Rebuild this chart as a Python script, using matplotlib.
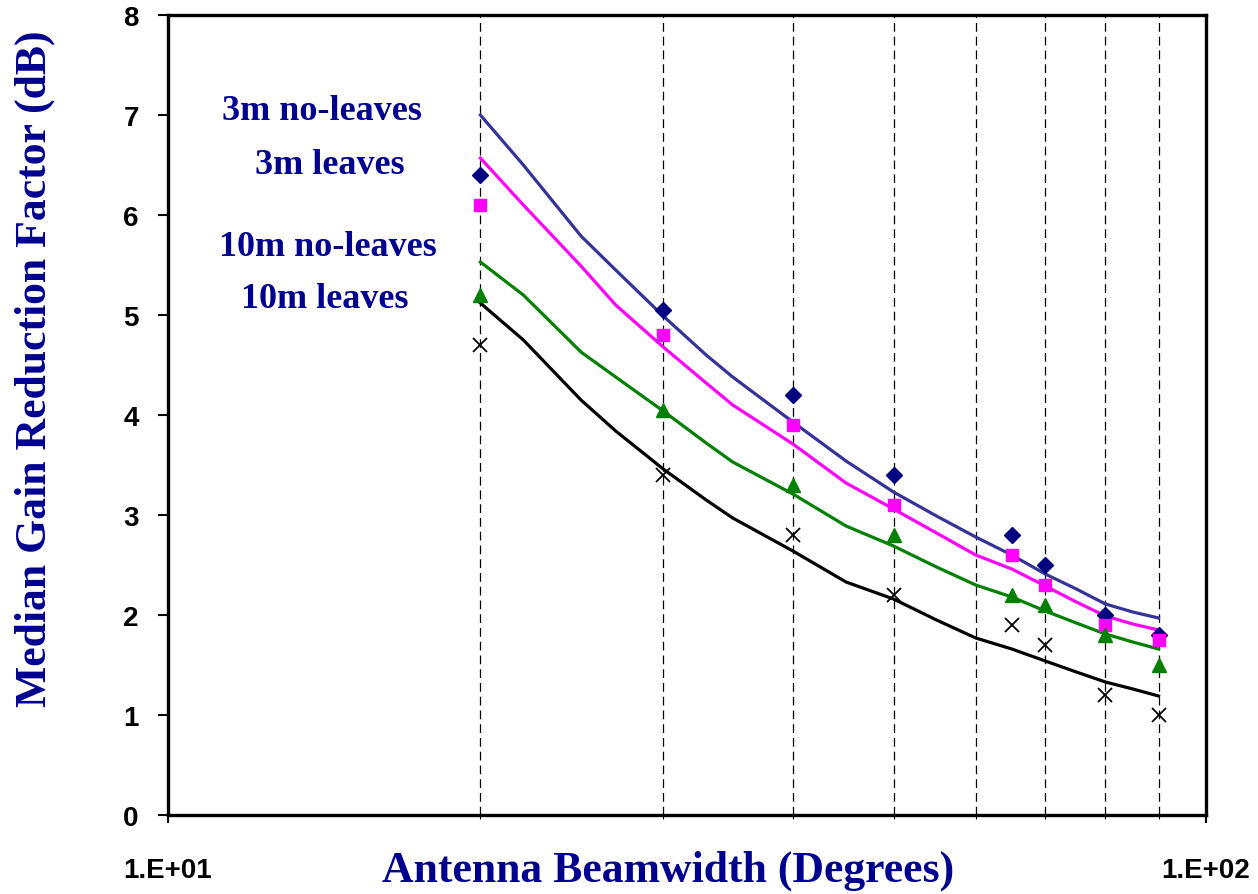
import numpy as np
import matplotlib.pyplot as plt
from matplotlib.ticker import FixedLocator, FixedFormatter, NullFormatter

# measured points
beam_x = [20, 30, 40, 50, 65, 70, 80, 90]
no_leaves_3m = [6.4, 5.05, 4.2, 3.4, 2.8, 2.5, 2.0, 1.8]
leaves_3m = [6.1, 4.8, 3.9, 3.1, 2.6, 2.3, 1.9, 1.75]
no_leaves_10m = [5.2, 4.05, 3.3, 2.8, 2.2, 2.1, 1.8, 1.5]
leaves_10m = [4.7, 3.4, 2.8, 2.2, 1.9, 1.7, 1.2, 1.0]

# model curves
fit_x = [20, 22, 25, 27, 30, 33, 35, 40, 45, 50, 55, 60, 65, 70, 75, 80, 85, 90]
fit_3m_nl = [7.0, 6.5, 5.79, 5.45, 4.99, 4.6, 4.38, 3.93, 3.54, 3.23, 2.99, 2.78, 2.6, 2.41, 2.26, 2.11, 2.03, 1.97]
fit_3m_l = [6.57, 6.1, 5.49, 5.1, 4.68, 4.32, 4.1, 3.71, 3.32, 3.06, 2.82, 2.6, 2.46, 2.29, 2.13, 1.99, 1.91, 1.85]
fit_10m_nl = [5.53, 5.2, 4.63, 4.38, 4.04, 3.72, 3.53, 3.21, 2.89, 2.69, 2.48, 2.3, 2.18, 2.04, 1.92, 1.81, 1.73, 1.66]
fit_10m_l = [5.12, 4.75, 4.15, 3.84, 3.46, 3.15, 2.97, 2.64, 2.33, 2.16, 1.95, 1.77, 1.66, 1.54, 1.43, 1.33, 1.26, 1.19]

grid_x = [20, 30, 40, 50, 60, 70, 80, 90, 100]
labels = ['3m no-leaves', '3m leaves', '10m no-leaves', '10m leaves']

navy = '#000090'
fig = plt.figure(figsize=(12.58, 8.95), dpi=100)
ax = fig.add_axes([0.1335, 0.0883, 0.8252, 0.8937])

for gx in grid_x:
  ax.axvline(gx, color='black', lw=0.9, ls=(0, (7, 4)), zorder=1)

ax.plot(fit_x, fit_3m_nl, color='#333399', lw=2.3, zorder=2)
ax.plot(fit_x, fit_3m_l, color='#FF00FF', lw=2.3, zorder=2)
ax.plot(fit_x, fit_10m_nl, color='#008000', lw=2.3, zorder=2)
ax.plot(fit_x, fit_10m_l, color='black', lw=2.3, zorder=2)

ax.plot(beam_x, no_leaves_3m, 'D', color='#000080', ms=8, zorder=3)
ax.plot(beam_x, leaves_3m, 's', color='#FF00FF', ms=8.5, zorder=3)
ax.plot(beam_x, no_leaves_10m, '^', color='#008000', ms=9.5, zorder=3)
ax.plot(beam_x, leaves_10m, 'x', color='black', ms=9.5, mew=1.3, zorder=3)

ax.set_xscale('log')
ax.set_xlim(10, 100)
ax.set_ylim(0, 8)
ax.xaxis.set_major_locator(FixedLocator([10, 100]))
ax.xaxis.set_major_formatter(FixedFormatter(['1.E+01', '1.E+02']))
ax.xaxis.set_minor_formatter(NullFormatter())
ax.set_yticks(range(0, 9))

for s in ax.spines.values():
  s.set_linewidth(2.4)

tick_font = dict(family='Liberation Sans', weight='bold', size=20)
for lab in ax.get_xticklabels() + ax.get_yticklabels():
  lab.set_fontproperties(tick_font)
ax.tick_params(axis='y', direction='out', length=7, width=1.5, pad=14)
ax.tick_params(axis='x', which='major', direction='out', length=6, width=1.5, pad=24)
ax.tick_params(axis='x', which='minor', direction='out', length=3, width=0.8)

lab_font = dict(family='Liberation Serif', weight='bold', size=31.5, color=navy)
fig.text(0.531, 0.027, 'Antenna Beamwidth (Degrees)', ha='center', va='center', **lab_font)
fig.text(0.028, 0.588, 'Median Gain Reduction Factor (dB)', ha='center', va='center',
         rotation=90, **lab_font)

note_font = dict(family='Liberation Serif', weight='bold', size=26, color=navy)
note_pos = [(322, 112), (330, 166), (328, 248), (325, 300)]
for txt, (px, py) in zip(labels, note_pos):
  fig.text(px / 1258, 1 - py / 895, txt, ha='center', va='center', **note_font)

fig.savefig('out.png', dpi=100)
